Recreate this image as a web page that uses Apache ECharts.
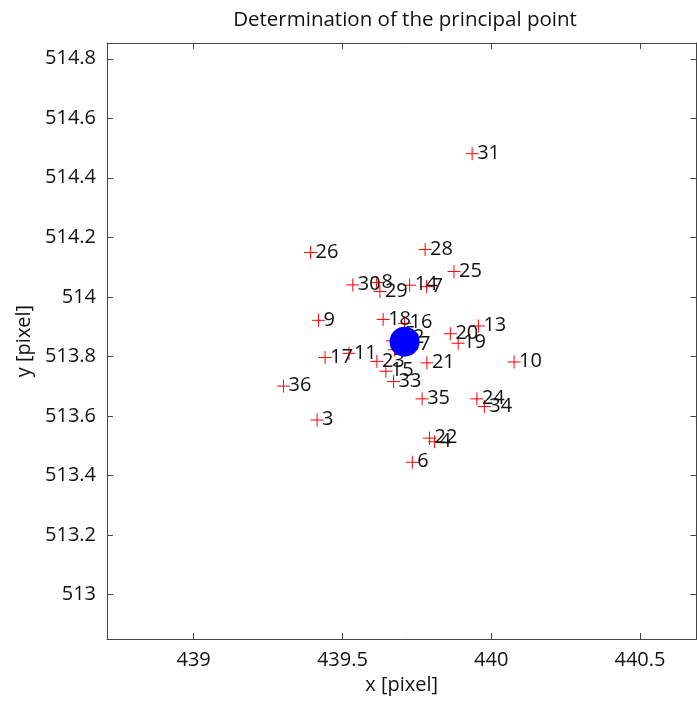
<!DOCTYPE html>
<html>
<head>
<meta charset="utf-8">
<script src="https://cdn.jsdelivr.net/npm/echarts@6/dist/echarts.min.js"></script>
<style>
  html, body { margin: 0; padding: 0; background: #fff; }
  #chart { width: 697px; height: 701px; }
</style>
</head>
<body>
<div id="chart"></div>
<script>
// point numbers and their estimated principal point positions
var pointIds = [1, 2, 3, 4, 5, 6, 7, 8, 9, 10, 11, 12, 13, 14, 15, 16, 17, 18,
  19, 20, 21, 22, 23, 24, 25, 26, 27, 28, 29, 30, 31, 32, 33, 34, 35, 36]
var xValues = [439.692, 439.675, 439.415, 439.810, 439.692, 439.735, 439.783, 439.615, 439.420, 440.077,
  439.522, 439.682, 439.957, 439.726, 439.646, 439.709, 439.442, 439.637, 439.889, 439.863,
  439.784, 439.793, 439.616, 439.952, 439.875, 439.393, 439.702, 439.778, 439.626, 439.535,
  439.936, 439.668, 439.672, 439.977, 439.768, 439.302]
var yValues = [513.832, 513.822, 513.586, 513.513, 513.872, 513.444, 514.034, 514.048, 513.921, 513.781,
  513.810, 513.862, 513.902, 514.039, 513.750, 513.911, 513.796, 513.924, 513.844, 513.876,
  513.778, 513.525, 513.783, 513.657, 514.085, 514.149, 513.838, 514.159, 514.018, 514.040,
  514.481, 513.852, 513.715, 513.631, 513.657, 513.700]

// mean principal point
var meanX = [439.709]
var meanY = [513.849]

var xTicks = [439, 439.5, 440, 440.5]
var yTicks = [513, 513.2, 513.4, 513.6, 513.8, 514, 514.2, 514.4, 514.6, 514.8]

var font = 'Open Sans'
var axisColor = '#444'
var textColor = '#111'

var points = pointIds.map(function(id, i) {
  return { value: [xValues[i], yValues[i]], name: String(id) }
})

function fmt(v) {
  return String(+(+v).toFixed(1))
}

function axisBase(extra) {
  var a = {
    type: 'value',
    axisLine: { show: true, onZero: false, lineStyle: { color: axisColor, width: 1 } },
    splitLine: { show: false },
    axisTick: { show: true, inside: true, length: 6, lineStyle: { color: axisColor } },
    axisLabel: { show: false }
  }
  return Object.assign(a, extra)
}

var chart = echarts.init(document.getElementById('chart'), null, { renderer: 'canvas' })

chart.setOption({
  animation: false,
  backgroundColor: '#fff',
  title: {
    text: 'Determination of the principal point',
    left: 400,
    textAlign: 'center',
    top: 5,
    textStyle: { fontFamily: font, fontSize: 20.5, fontWeight: 'normal', color: textColor }
  },
  grid: { left: 107, top: 43, right: 0.5, bottom: 62 },
  xAxis: [
    axisBase({
      position: 'bottom',
      min: 438.709,
      max: 440.690,
      axisTick: { show: true, inside: true, length: 6, customValues: xTicks, lineStyle: { color: axisColor } },
      axisLabel: {
        show: true, customValues: xTicks, formatter: fmt, margin: 11,
        fontFamily: font, fontSize: 20, color: textColor
      },
      name: 'x [pixel]',
      nameLocation: 'middle',
      nameGap: 36,
      nameTextStyle: { fontFamily: font, fontSize: 20, color: textColor }
    }),
    axisBase({
      position: 'top',
      min: 438.709,
      max: 440.690,
      axisTick: { show: true, inside: true, length: 6, customValues: xTicks, lineStyle: { color: axisColor } }
    })
  ],
  yAxis: [
    axisBase({
      position: 'left',
      min: 512.850,
      max: 514.853,
      axisTick: { show: true, inside: true, length: 6, customValues: yTicks, lineStyle: { color: axisColor } },
      axisLabel: {
        show: true, customValues: yTicks, formatter: fmt, margin: 11,
        fontFamily: font, fontSize: 20, color: textColor
      },
      name: 'y [pixel]',
      nameLocation: 'middle',
      nameGap: 72,
      nameTextStyle: { fontFamily: font, fontSize: 20, color: textColor }
    }),
    axisBase({
      position: 'right',
      min: 512.850,
      max: 514.853,
      axisTick: { show: true, inside: true, length: 6, customValues: yTicks, lineStyle: { color: axisColor } }
    })
  ],
  series: [
    {
      name: 'points',
      type: 'scatter',
      z: 2,
      symbol: 'path://M0,50 L100,50 M50,0 L50,100',
      symbolSize: 13,
      itemStyle: { color: 'rgba(0,0,0,0)', borderColor: '#ff0000', borderWidth: 1, opacity: 1 },
      label: {
        show: true,
        formatter: '{b}',
        position: [12, 6.5],
        align: 'left',
        verticalAlign: 'middle',
        fontFamily: font,
        fontSize: 20,
        color: textColor
      },
      labelLayout: { hideOverlap: false },
      emphasis: { disabled: true },
      data: points
    },
    {
      name: 'mean',
      type: 'scatter',
      zlevel: 1,
      z: 5,
      symbol: 'circle',
      symbolSize: 30,
      itemStyle: { color: '#0000ff', opacity: 1 },
      emphasis: { disabled: true },
      data: meanX.map(function(x, i) { return [x, meanY[i]] })
    }
  ]
})
</script>
</body>
</html>
